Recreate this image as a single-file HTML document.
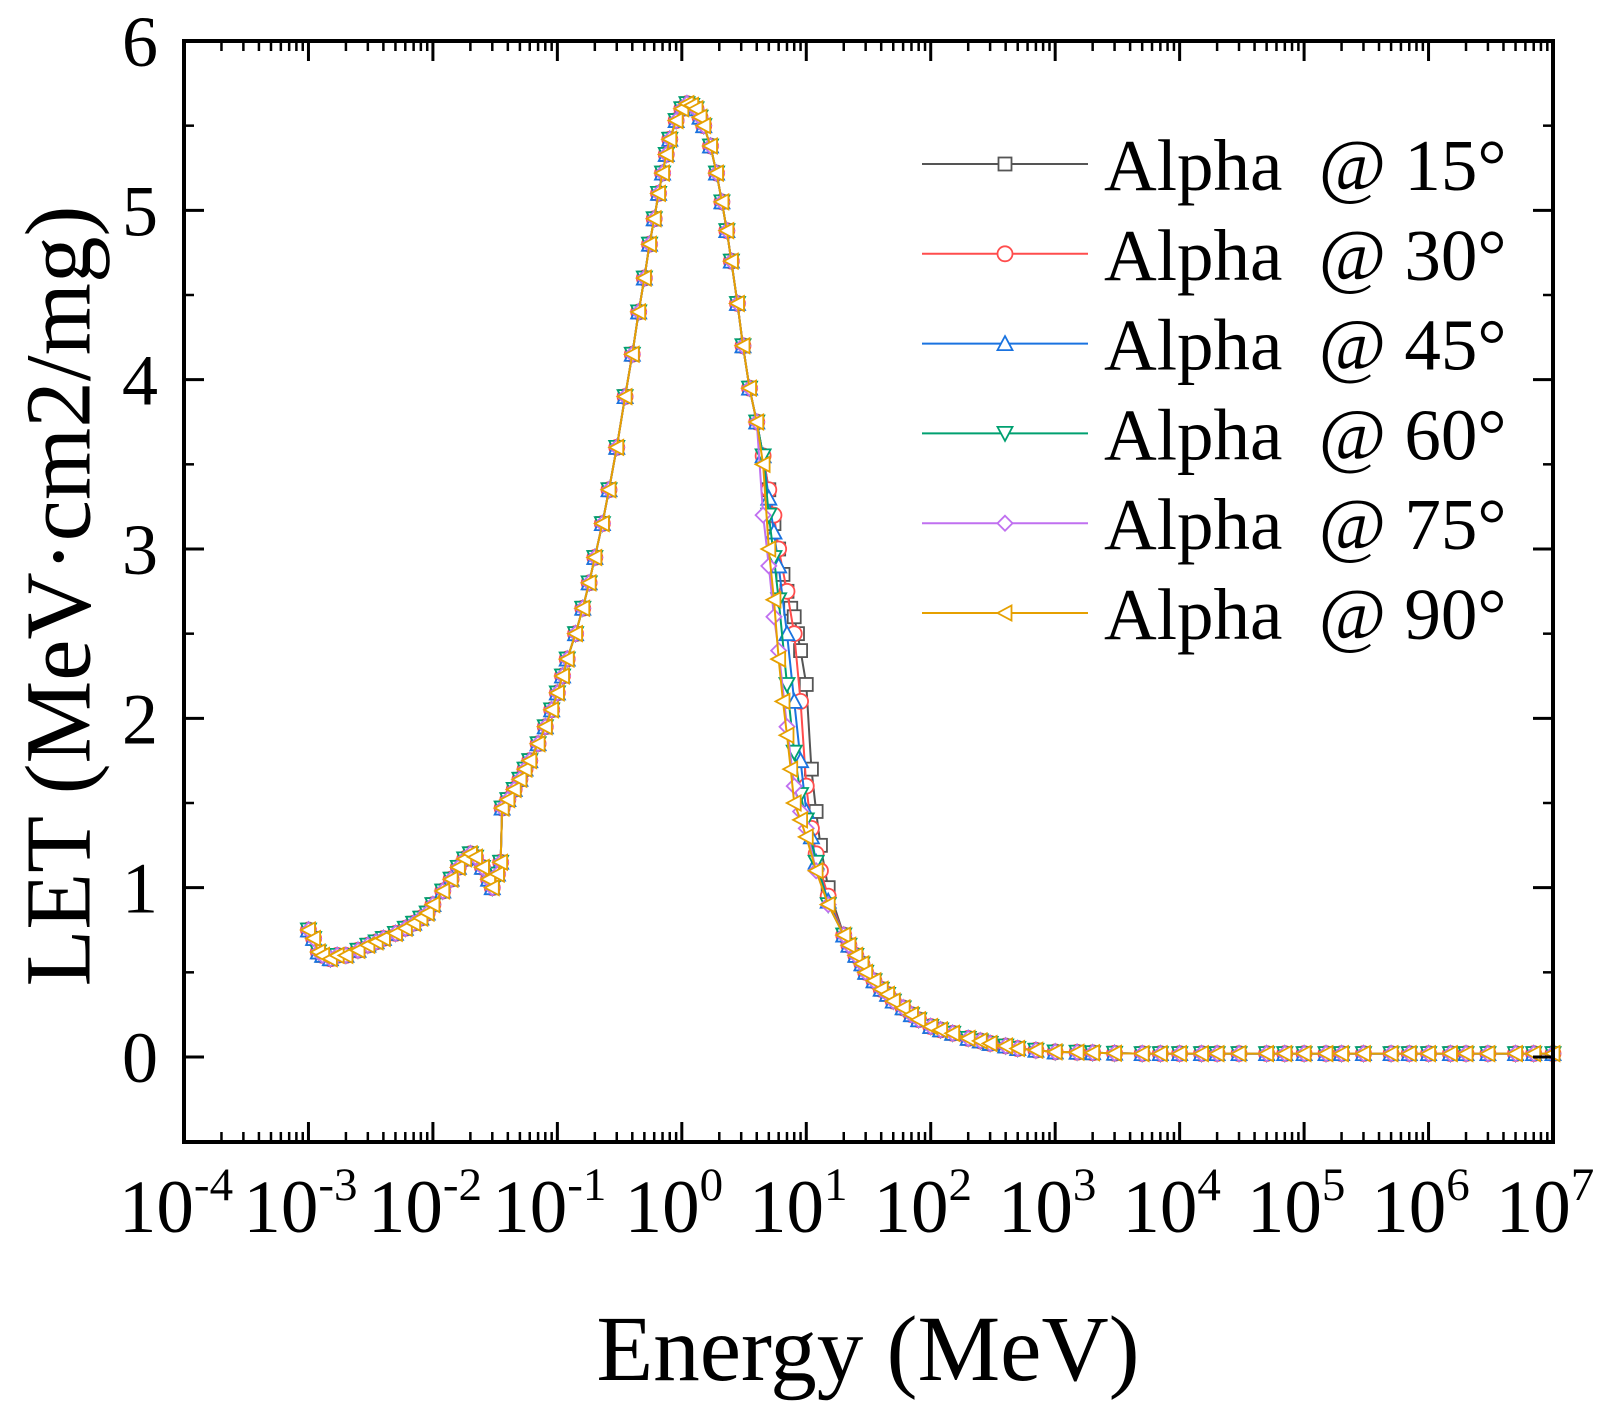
<!DOCTYPE html>
<html><head><meta charset="utf-8"><style>
html,body{margin:0;padding:0;background:#fff;}
svg text{font-family:"Liberation Serif",serif;fill:#000;}
</style></head><body>
<svg id="chart" width="1616" height="1405" viewBox="0 0 1616 1405" xmlns="http://www.w3.org/2000/svg">
<g id="grid"></g><g id="series"></g><g id="axes"></g><g id="legend"></g>
<text x="68" y="596" font-size="93" text-anchor="middle" transform="rotate(-90 68 596)" dominant-baseline="middle">LET (MeV·cm2/mg)</text>
<text x="868" y="1380" font-size="93" text-anchor="middle">Energy (MeV)</text>
</svg>
<script>
const xTickExps=[-4,-3,-2,-1,0,1,2,3,4,5,6,7];
const yTicks=[0,1,2,3,4,5,6];
const seriesNames=["Alpha  @ 15°","Alpha  @ 30°","Alpha  @ 45°","Alpha  @ 60°","Alpha  @ 75°","Alpha  @ 90°"];
const seriesColors=["#555555","#ff4d4d","#1a73e0","#00a070","#c070f0","#e6a000"];
const seriesMarkers=["square","circle","up","down","diamond","left"];
// shared low-energy part
const lowE=[0.001,0.0011,0.0012,0.0013,0.0015,0.0017,0.002,0.0025,0.003,0.0035,0.004,0.005,0.006,0.007,0.008,0.009,0.01,0.012,0.014,0.016,0.018,0.02,0.022,0.025,0.028,0.03,0.033,0.035,0.036,0.04,0.045,0.05,0.055,0.06,0.07,0.08,0.09,0.1,0.11,0.12,0.14,0.16,0.18,0.2,0.23,0.26,0.3,0.35,0.4,0.45,0.5,0.55,0.6,0.65,0.7,0.75,0.8,0.9,1.0,1.1,1.2,1.3,1.4,1.5,1.7,1.9,2.1,2.3,2.5,2.8,3.1,3.5,4];
const lowL=[0.75,0.7,0.62,0.6,0.58,0.6,0.6,0.63,0.66,0.68,0.7,0.73,0.76,0.79,0.82,0.85,0.9,0.98,1.05,1.12,1.17,1.2,1.18,1.12,1.05,1.0,1.08,1.15,1.47,1.52,1.58,1.64,1.7,1.75,1.85,1.95,2.05,2.15,2.25,2.35,2.5,2.65,2.8,2.95,3.15,3.35,3.6,3.9,4.15,4.4,4.6,4.8,4.95,5.1,5.22,5.33,5.42,5.53,5.6,5.63,5.62,5.6,5.55,5.5,5.38,5.22,5.05,4.88,4.7,4.45,4.2,3.95,3.75];
// per-series transition region
const midE=[
[4.5,5,5.5,6,6.5,7,7.5,8,8.5,9,10,11,12,13,15],
[4.5,5,5.5,6,7,8,9,10,11,12,13,15],
[4.5,5,5.5,6,7,8,9,10,11,12,15],
[4.5,5,5.5,6,7,8,9,10,12,15],
[4.5,5,5.5,6,7,8,9,10,12,15],
[4.5,5,5.5,6,6.5,7,7.5,8,9,10,12,15]];
const midL=[
[3.55,3.35,3.15,3.0,2.85,2.75,2.65,2.6,2.5,2.4,2.2,1.7,1.45,1.25,1.0],
[3.55,3.35,3.2,3.0,2.75,2.5,2.1,1.6,1.35,1.2,1.1,0.95],
[3.55,3.3,3.1,2.9,2.5,2.1,1.75,1.45,1.3,1.15,0.92],
[3.55,3.2,2.95,2.7,2.2,1.8,1.55,1.4,1.15,0.9],
[3.2,2.9,2.6,2.4,1.95,1.6,1.45,1.35,1.1,0.9],
[3.5,3.0,2.7,2.35,2.1,1.9,1.7,1.5,1.4,1.3,1.1,0.9]];
// shared high-energy tail
const highE=[20,22,25,28,30,35,40,45,50,60,70,80,100,120,150,200,250,300,400,500,700,1000,1500,2000,3000,5000,7000,10000,15000,20000,30000,50000,70000,100000,150000,200000,300000,500000,700000,1000000,1500000,2000000,3000000,5000000,7000000,10000000];
const highL=[0.72,0.66,0.6,0.55,0.5,0.45,0.4,0.37,0.33,0.29,0.25,0.22,0.18,0.16,0.14,0.11,0.095,0.08,0.065,0.05,0.04,0.03,0.028,0.025,0.022,0.02,0.02,0.02,0.02,0.02,0.02,0.02,0.02,0.02,0.02,0.02,0.02,0.02,0.02,0.02,0.02,0.02,0.02,0.02,0.02,0.02];

const NS="http://www.w3.org/2000/svg";
const L=184,R=1553,T=41,B=1142;
const xS=e=>L+(Math.log10(e)+4)*(R-L)/11;
const yS=v=>1057-v*(1057-T)/6;
function mk(tag,attrs,parent){const el=document.createElementNS(NS,tag);for(const k in attrs)el.setAttribute(k,attrs[k]);parent.appendChild(el);return el;}
const axes=document.getElementById('axes');
const sg=document.getElementById('series');
const lg=document.getElementById('legend');

function marker(type,x,y,color,parent){
  const s=6.5;let el;
  if(type==="square") el=mk('rect',{x:x-s,y:y-s,width:2*s,height:2*s},parent);
  else if(type==="circle") el=mk('circle',{cx:x,cy:y,r:s+1},parent);
  else {
    let p;
    if(type==="up") p=[[x,y-s-1],[x+s+1,y+s],[x-s-1,y+s]];
    else if(type==="down") p=[[x,y+s+1],[x+s+1,y-s],[x-s-1,y-s]];
    else if(type==="diamond") p=[[x,y-s-1],[x+s+1,y],[x,y+s+1],[x-s-1,y]];
    else p=[[x-s-1,y],[x+s,y-s-1],[x+s,y+s+1]];
    el=mk('polygon',{points:p.map(a=>a.join(',')).join(' ')},parent);
  }
  el.setAttribute('fill','#fff');el.setAttribute('stroke',color);el.setAttribute('stroke-width','1.8');
  return el;
}

for(let i=0;i<seriesNames.length;i++){
  const E=lowE.concat(midE[i],highE), V=lowL.concat(midL[i],highL);
  const g=mk('g',{},sg);
  
  
  const pl=mk('polyline',{points:E.map((e,j)=>xS(e)+','+yS(V[j])).join(' '),fill:'none',stroke:seriesColors[i],'stroke-width':2},g);
  
  
  E.forEach((e,j)=>{const m=marker(seriesMarkers[i],xS(e),yS(V[j]),seriesColors[i],g);
    
    });
  // legend
  const ly=164+i*89.8;
  const le=mk('g',{},lg);
  
  
  mk('line',{x1:922,x2:1088,y1:ly,y2:ly,stroke:seriesColors[i],'stroke-width':2},le);
  marker(seriesMarkers[i],1005,ly,seriesColors[i],le);
  const t=mk('text',{x:1104,y:ly+26,'font-size':73},le);
  
  
  t.textContent=seriesNames[i].replace("  ","\u00a0\u00a0");
}

// frame
const fr=mk('rect',{x:L,y:T,width:R-L,height:B-T,fill:'none',stroke:'#000','stroke-width':4},axes);


// x ticks
xTickExps.forEach((p,k)=>{
  const x=xS(Math.pow(10,p));
  mk('line',{x1:x,x2:x,y1:B,y2:B-20,stroke:'#000','stroke-width':3},axes);
  mk('line',{x1:x,x2:x,y1:T,y2:T+20,stroke:'#000','stroke-width':3},axes);
  if(k<xTickExps.length-1){for(let m=2;m<10;m++){const xm=xS(m*Math.pow(10,p));
    mk('line',{x1:xm,x2:xm,y1:B,y2:B-10,stroke:'#000','stroke-width':2.5},axes);
    mk('line',{x1:xm,x2:xm,y1:T,y2:T+10,stroke:'#000','stroke-width':2.5},axes);}}
  const t=mk('text',{x:x-8,y:1232,'font-size':75,'text-anchor':'middle'},axes);
  
  
  t.textContent='10';
  const sup=mk('tspan',{dy:-32,'font-size':47},t);sup.textContent=(p<0?'-':'')+Math.abs(p);
});
// y ticks
yTicks.forEach(v=>{
  const y=yS(v);
  mk('line',{x1:L,x2:L+20,y1:y,y2:y,stroke:'#000','stroke-width':3},axes);
  mk('line',{x1:R,x2:R-20,y1:y,y2:y,stroke:'#000','stroke-width':3},axes);
  const t=mk('text',{x:158,y:y+25,'font-size':72,'text-anchor':'end'},axes);
  
  
  t.textContent=v;
});
for(let v=-0.5;v<6;v+=1){const y=yS(v);
  mk('line',{x1:L,x2:L+10,y1:y,y2:y,stroke:'#000','stroke-width':2.5},axes);
  mk('line',{x1:R,x2:R-10,y1:y,y2:y,stroke:'#000','stroke-width':2.5},axes);}
</script>
</body></html>
